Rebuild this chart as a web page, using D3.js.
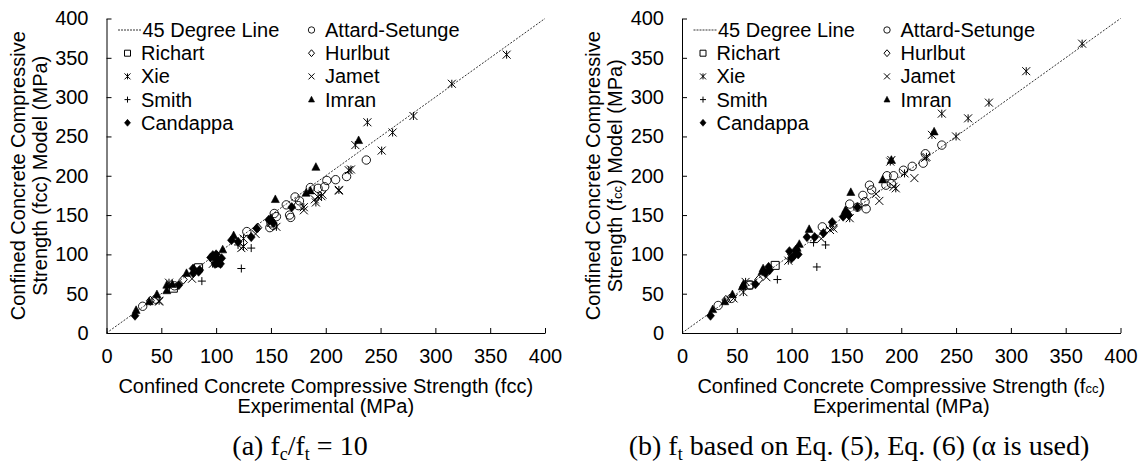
<!DOCTYPE html>
<html>
<head>
<meta charset="utf-8">
<script src="https://cdn.jsdelivr.net/npm/d3@7"></script>
<style>
  body { margin: 0; background: #fff; }
  text { font-family: "Liberation Sans", Arial, sans-serif; fill: #000; }
  .cap { font-family: "Liberation Serif", "Times New Roman", serif; }
</style>
</head>
<body>
<svg id="chart" width="1144" height="463"></svg>
<script>
// series names / legend order
var seriesNames = ["Attard-Setunge", "Richart", "Hurlbut", "Xie", "Jamet", "Smith", "Imran", "Candappa"];
var ticks = [0, 50, 100, 150, 200, 250, 300, 350, 400];

// panel (a): [experimental, model] pairs
var attardA = [[33,34],[45,43],[62,60],[128,129],[150,140],[149,134],[153,152],[152,137],[164,163],[172,173],[175,162],[167,150],[168,147],[176,168],[186,185],[193,184],[199,186],[201,194],[209,195],[219,199],[237,220],[155,148]];
var richartA = [[61,57],[84,83]];
var hurlbutA = [[40,41],[70,68],[101,98],[138,134]];
var xieA = [[365,354],[315,317],[280,276],[261,255],[238,268],[251,232],[227,239],[223,208],[212,182],[193,173],[196,174],[191,166],[155,135],[125,110],[97,88],[57,64],[48,41],[221,207],[180,160],[125,120]];
var jametA = [[78,69],[123,108],[136,126],[180,156],[212,181],[48,40],[100,89],[190,170],[150,140],[197,176]];
var smithA = [[123,82],[132,108],[87,66],[120,112]];
var imranA = [[191,211],[154,170],[230,245],[182,178],[116,124],[106,106],[73,76],[55,61],[55,54],[46,49],[39,40],[27,29],[102,88],[150,146],[186,181],[60,62],[100,97]];
var candappaA = [[26,22],[66,61],[79,82],[85,80],[84,78],[79,76],[97,99],[102,93],[99,88],[104,88],[114,118],[120,116],[132,122],[137,133],[148,144],[169,160],[152,140],[105,95],[100,100],[95,96]];

// panel (b)
var attardB = [[33,35],[45,44],[128,135],[153,164],[165,175],[167,167],[168,158],[171,188],[173,182],[187,200],[193,200],[191,190],[186,188],[202,207],[210,212],[220,216],[222,228],[237,239],[160,160],[62,61]];
var richartB = [[85,86],[61,61]];
var hurlbutB = [[40,42],[70,68],[100,100],[138,136]];
var xieB = [[365,368],[314,333],[280,293],[261,273],[250,250],[237,279],[228,252],[223,224],[191,220],[203,203],[195,184],[153,146],[97,92],[58,65],[56,52],[190,218]];
var jametB = [[212,197],[193,186],[180,168],[177,177],[138,133],[127,120],[135,131],[77,71],[47,44],[222,223]];
var smithB = [[123,84],[131,112],[87,68],[120,115]];
var imranB = [[191,220],[230,256],[183,195],[154,179],[149,156],[116,132],[107,113],[74,82],[73,78],[55,59],[46,49],[39,40],[28,30],[150,152],[105,108],[56,62]];
var candappaB = [[26,22],[67,62],[79,84],[80,80],[76,76],[98,104],[102,98],[104,106],[100,95],[106,100],[114,122],[121,122],[137,141],[152,150],[147,148],[129,127],[150,154],[160,160]];

var shapes = ["circle", "square", "diamond", "star", "cross", "plus", "triangle", "fdiamond"];

var svg = d3.select("#chart");

function marker(g, shape, cx, cy, s) {
    var m;
    if (shape == "circle") {
        m = g.append("circle").attr("cx", cx).attr("cy", cy).attr("r", s)
            .attr("fill", "none").attr("stroke", "#000").attr("stroke-width", 0.9);
        return m;
    }
    var d;
    if (shape == "square") d = "M" + (-s) + "," + (-s) + "h" + 2*s + "v" + 2*s + "h" + (-2*s) + "Z";
    if (shape == "diamond" || shape == "fdiamond") d = "M0," + (-s*1.15) + "L" + s + ",0L0," + s*1.15 + "L" + (-s) + ",0Z";
    if (shape == "triangle") d = "M0," + (-s*1.1) + "L" + s + "," + s*0.8 + "L" + (-s) + "," + s*0.8 + "Z";
    if (shape == "cross") d = "M" + (-s) + "," + (-s) + "L" + s + "," + s + "M" + (-s) + "," + s + "L" + s + "," + (-s);
    if (shape == "plus") d = "M" + (-s) + ",0L" + s + ",0M0," + (-s) + "L0," + s;
    if (shape == "star") d = "M" + (-s) + "," + (-s) + "L" + s + "," + s + "M" + (-s) + "," + s + "L" + s + "," + (-s) + "M0," + (-s) + "L0," + s;
    var filled = (shape == "triangle" || shape == "fdiamond");
    m = g.append("path").attr("d", d)
        .attr("transform", "translate(" + cx + "," + cy + ")")
        .attr("fill", filled ? "#000" : "none")
        .attr("stroke", "#000")
        .attr("stroke-width", filled ? 0.6 : 1);
    return m;
}

function drawPanel(left, series, smallSub, caption) {
    var x = d3.scaleLinear().domain([0, 400]).range([left, left + 438.5]);
    var y = d3.scaleLinear().domain([0, 400]).range([333, 18.5]);
    var g = svg.append("g");

    g.append("g")
        .attr("transform", "translate(0,333)")
        .call(d3.axisBottom(x).tickValues(ticks).tickSizeInner(-5).tickSizeOuter(0).tickPadding(16))
        .call(function(a){ a.selectAll("text").attr("font-size", "20px").attr("font-family", null); a.attr("font-family", null); });
    g.append("g")
        .attr("transform", "translate(" + left + ",0)")
        .call(d3.axisLeft(y).tickValues(ticks).tickSizeInner(-5).tickSizeOuter(0).tickPadding(18))
        .call(function(a){ a.selectAll("text").attr("font-size", "20px").attr("font-family", null); a.attr("font-family", null); });

    // 45 degree line
    g.append("line")
        .attr("x1", x(0)).attr("y1", y(0))
        .attr("x2", x(400)).attr("y2", y(400))
        .attr("stroke", "#000").attr("stroke-width", 0.8)
        .attr("stroke-dasharray", "2,1.5");

    series.forEach(function(sr, i){
        sr.forEach(function(p){
            marker(g, shapes[i], x(p[0]), y(p[1]), shapes[i] == "circle" ? 4.2 : 4);
        });
    });

    // legend
    var lg = g.append("g");
    lg.append("line")
        .attr("x1", left + 11.5).attr("x2", left + 35)
        .attr("y1", 30).attr("y2", 30)
        .attr("stroke", "#000").attr("stroke-width", 0.8).attr("stroke-dasharray", "2,1");
    lg.append("text").attr("x", left + 36).attr("y", 30).attr("dy", "0.35em")
        .attr("font-size", "20px").text("45 Degree Line");
    // column 2 first, then column 1
    var slots = [[1,0],[0,1],[1,1],[0,2],[1,2],[0,3],[1,3],[0,4]];
    seriesNames.forEach(function(n, i){
        var c = slots[i][0], r = slots[i][1];
        var sx = left + (c == 0 ? 21 : 205);
        var sy = 30 + r * 23.2;
        marker(lg, shapes[i], sx, sy, shapes[i] == "circle" ? 3.2 : 3);
        lg.append("text").attr("x", sx + 13.5).attr("y", sy).attr("dy", "0.35em")
            .attr("font-size", "20px").text(n);
    });

    // axis titles
    var cx = (x(0) + x(400)) / 2;
    var t1 = g.append("text").attr("x", cx).attr("y", 393).attr("text-anchor", "middle").attr("font-size", "20px");
    t1.append("tspan").text("Confined Concrete Compressive Strength (f");
    t1.append("tspan").attr("font-size", smallSub ? "13px" : "20px").text("cc");
    t1.append("tspan").text(")");
    g.append("text").attr("x", cx).attr("y", 413).attr("text-anchor", "middle").attr("font-size", "20px")
        .text("Experimental (MPa)");

    var cy = (y(0) + y(400)) / 2;
    g.append("text").attr("transform", "translate(" + (left - 82) + "," + cy + ") rotate(-90)")
        .attr("text-anchor", "middle").attr("font-size", "20px")
        .text("Confined Concrete Compressive");
    var t2 = g.append("text").attr("transform", "translate(" + (left - 60) + "," + cy + ") rotate(-90)")
        .attr("text-anchor", "middle").attr("font-size", "20px");
    t2.append("tspan").text("Strength (f");
    t2.append("tspan").attr("font-size", smallSub ? "13px" : "20px").text("cc");
    t2.append("tspan").text(") Model (MPa)");

    // caption
    var cap = g.append("text").attr("class", "cap").attr("x", caption.x).attr("y", 455)
        .attr("text-anchor", "middle").attr("font-size", "28px");
    caption.parts.forEach(function(p){
        if (p[1]) cap.append("tspan").attr("font-size", "18px").attr("dy", 5).text(p[0]);
        else cap.append("tspan").attr("dy", p[2] ? -5 : 0).text(p[0]);
    });
}

drawPanel(106.5, [attardA, richartA, hurlbutA, xieA, jametA, smithA, imranA, candappaA], false,
    {x: 300, parts: [["(a) f"], ["c", true], ["/f", false, true], ["t", true], [" = 10", false, true]]});
drawPanel(682, [attardB, richartB, hurlbutB, xieB, jametB, smithB, imranB, candappaB], true,
    {x: 859, parts: [["(b) f"], ["t", true], [" based on Eq. (5), Eq. (6) (\u03b1 is used)", false, true]]});
</script>
</body>
</html>
